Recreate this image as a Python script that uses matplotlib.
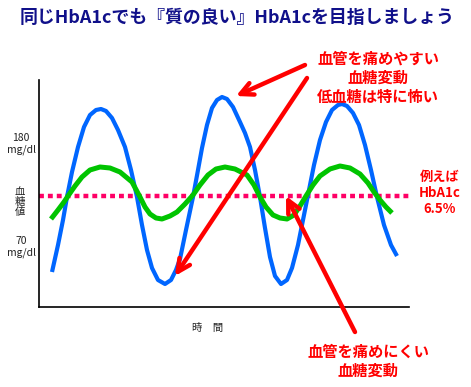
import matplotlib.pyplot as plt

plt.rcParams['font.family'] = ['Noto Sans CJK JP', 'DejaVu Sans']

W, H = 471, 387

# Blue curve (large swings): x = time, y = level (screen units, down = low)
blue_x = [52, 58, 63, 67, 72, 78, 84, 90, 96, 101, 106, 112, 118, 125, 131, 137, 142, 147, 152,
          158, 165, 171, 176, 180, 186, 193, 198, 202, 207, 212, 217, 222, 227, 233, 240, 245,
          250, 255, 260, 265, 270, 275, 281, 287, 292, 298, 303, 308, 314, 320, 326, 332, 338,
          342, 347, 353, 359, 365, 371, 377, 384, 391, 397]
blue_y = [272, 245, 220, 197, 172, 147, 127, 115, 110, 109, 111, 118, 130, 147, 170, 197, 225, 250, 268,
          280, 284, 280, 270, 259, 230, 197, 170, 148, 125, 108, 100, 97, 99, 107, 122, 133,
          147, 170, 197, 228, 257, 276, 284, 280, 268, 245, 220, 195, 165, 140, 122, 110, 105,
          104, 106, 113, 125, 145, 170, 197, 225, 245, 256]

# Green curve (small swings)
green_x = [51, 58, 64, 68, 75, 82, 90, 100, 110, 120, 132, 140, 145, 150, 156, 162, 170, 177, 185,
           193, 200, 208, 216, 225, 235, 247, 254, 260, 266, 273, 280, 287, 294, 300, 306, 313,
           320, 330, 340, 350, 360, 368, 374, 380, 386, 392]
green_y = [219, 210, 202, 196, 186, 177, 170, 167, 168, 172, 182, 197, 207, 214, 218, 219, 216, 212, 204,
           195, 185, 175, 169, 167, 169, 175, 185, 197, 207, 215, 218, 219, 215, 206, 196, 185,
           176, 169, 166, 168, 174, 183, 192, 200, 207, 213]

hba1c_level = 196

# Arrows: (text end, tip)
arrows = [((305, 65), (236, 96)),
          ((307, 78), (175, 276)),
          ((355, 332), (286, 196))]


def fp(x, y):
    return x / W, 1 - y / H


fig = plt.figure(figsize=(W / 100, H / 100), dpi=100)
ax = fig.add_axes([39 / W, 1 - 307 / H, (409 - 39) / W, (307 - 80) / H])
ax.set_xlim(39, 409)
ax.set_ylim(307, 80)

ax.axhline(hba1c_level, color='#ff0066', lw=3.2, ls=(0, (1.1, 0.9)), zorder=1)
ax.plot(blue_x, blue_y, color='#0066ff', lw=3.0, solid_capstyle='butt',
        solid_joinstyle='round', zorder=2)
ax.plot(green_x, green_y, color='#00c400', lw=3.6, solid_capstyle='butt',
        solid_joinstyle='round', zorder=3)

for (sx, sy), (tx, ty) in arrows:
    ax.annotate('', xy=(tx, ty), xytext=(sx, sy), annotation_clip=False,
                arrowprops=dict(arrowstyle='->,head_length=0.9,head_width=0.45',
                                color='#ff0000', lw=3.2, shrinkA=0, shrinkB=0),
                zorder=5)

for s in ['top', 'right']:
    ax.spines[s].set_visible(False)
for s in ['left', 'bottom']:
    ax.spines[s].set_linewidth(1.2)
ax.set_xticks([])
ax.set_yticks([])

# Title
fig.text(*fp(237, 18), '同じHbA1cでも『質の良い』HbA1cを目指しましょう', ha='center', va='center',
         fontsize=12.9, fontweight='bold', color='#10108a')

# Red annotations
fig.text(*fp(378, 78), '血管を痛めやすい\n血糖変動\n低血糖は特に怖い', ha='center', va='center',
         fontsize=11, fontweight='bold', color='#ff0000', linespacing=1.25)
fig.text(*fp(368, 361), '血管を痛めにくい\n血糖変動', ha='center', va='center',
         fontsize=11, fontweight='bold', color='#ff0000', linespacing=1.25)
fig.text(*fp(440, 193), '例えば\nHbA1c\n6.5%', ha='center', va='center',
         fontsize=9.5, fontweight='bold', color='#ff0000', linespacing=1.15)

# Axis labels
fig.text(*fp(21, 144), '180\nmg/dl', ha='center', va='center', fontsize=7.5, color='#222222',
         linespacing=1.1)
fig.text(*fp(21, 247), '70\nmg/dl', ha='center', va='center', fontsize=7.5, color='#222222',
         linespacing=1.1)
fig.text(*fp(20, 202), '血\n糖\n値', ha='center', va='center', fontsize=7.5, color='#222222',
         linespacing=0.95)
fig.text(*fp(208, 328), '時　間', ha='center', va='center', fontsize=7.5, color='#222222')

fig.savefig('out.png', dpi=100)
